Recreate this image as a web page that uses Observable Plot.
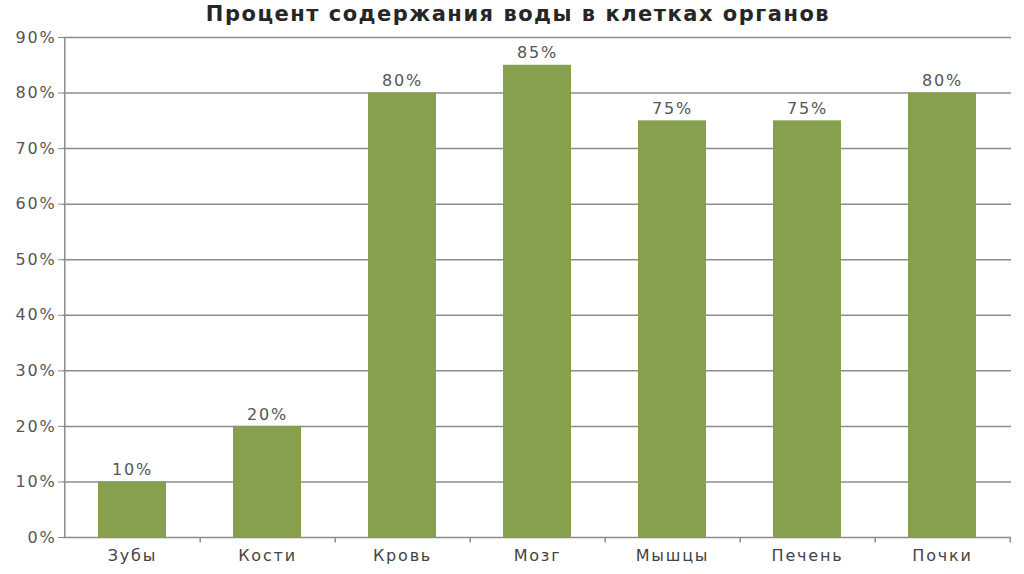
<!DOCTYPE html>
<html><head><meta charset="utf-8">
<script src="https://cdn.jsdelivr.net/npm/d3@7"></script>
<script src="https://cdn.jsdelivr.net/npm/@observablehq/plot@0.6"></script>
<style>
body{margin:0;background:#fff;width:1024px;height:574px;overflow:hidden;}
#title{height:22px;line-height:28px;text-align:center;font-family:"DejaVu Sans",sans-serif;font-weight:700;font-size:21px;letter-spacing:1.5px;color:#262626;padding-left:12px;white-space:nowrap;overflow:visible;position:relative;z-index:1;}
#chart svg{display:block;}
#chart text{letter-spacing:1.8px;}
</style></head>
<body>
<div id="title">Процент содержания воды в клетках органов</div>
<div id="chart"></div>
<script>
const categories = ["Зубы","Кости","Кровь","Мозг","Мышцы","Печень","Почки"];
const values = [10,20,80,85,75,75,80];
const yTicks = [0,10,20,30,40,50,60,70,80,90];

const data = categories.map((c,i)=>({organ:c, value:values[i]}));
const W = 1024, ML = 63, MR = 13;
const bw = (W-ML-MR)/categories.length;
const grid = "#8c8c8c";
const font = "DejaVu Sans, sans-serif";

const chart = Plot.plot({
  width: W, height: 552,
  marginLeft: ML, marginRight: MR, marginTop: 15, marginBottom: 37,
  style:{fontFamily:font, fontSize:"15px", color:"#555", background:"transparent", overflow:"visible"},
  x:{domain:categories, paddingInner:0.5, paddingOuter:0.25, label:null},
  y:{domain:[0,90], ticks:yTicks, tickFormat:d=>d+"%", label:null},
  marks:[
    Plot.ruleY(yTicks, {stroke:grid, strokeWidth:1.5}),
    Plot.barY(data, {x:"organ", y:"value", fill:"#86a04d"}),
    Plot.ruleX([0], {x:()=>categories[0], y1:0, y2:90, dx:-bw/2, stroke:grid, strokeWidth:1.5}),
    Plot.ruleX(categories, {x:d=>d, y1:0, y2:-1, dx:bw/2, stroke:grid, strokeWidth:1.5}),
    Plot.axisY({ticks:yTicks, tickFormat:d=>d+"%", tickSize:5, stroke:grid, tickPadding:2, fontSize:16, fill:"#555", label:null}),
    Plot.axisX({tickSize:0, tickPadding:12, fontSize:16, fill:"#444", label:null}),
    Plot.text(data, {x:"organ", y:"value", text:d=>d.value+"%", dy:-12, fontSize:16, fill:"#555"})
  ]
});
document.getElementById("chart").appendChild(chart);
</script>
</body></html>
